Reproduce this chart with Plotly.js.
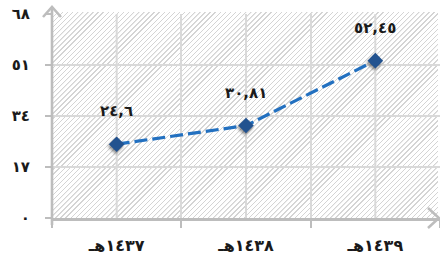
<!DOCTYPE html>
<html>
<head>
<meta charset="utf-8">
<script src="https://cdn.plot.ly/plotly-3.0.1.min.js"></script>
<style>
  html, body { margin: 0; padding: 0; background: #ffffff; }
  #wrap { position: relative; width: 440px; height: 256px; overflow: hidden; }
  #hatch {
    position: absolute; left: 52px; top: 12px; width: 386px; height: 206px;
    background: repeating-linear-gradient(135deg, #d4d4d4 0px, #d4d4d4 0.85px, #ffffff 1.15px, #ffffff 3.6px);
  }
  #chart { position: absolute; left: 0; top: 0; width: 440px; height: 256px; }
  #chart .scatterlayer .points path.point { filter: drop-shadow(-1px 2px 1.5px rgba(0,0,0,0.45)); }
</style>
</head>
<body>
<div id="wrap">
  <div id="hatch"></div>
  <div id="chart"></div>
</div>
<script>
// ---- data ----
const categories = ['١٤٣٧هـ', '١٤٣٨هـ', '١٤٣٩هـ'];
const values = [24.6, 30.81, 52.45];
const valueLabels = ['٢٤,٦', '٣٠,٨١', '٥٢,٤٥'];
const yTickVals = [0, 17, 34, 51, 68];
const yTickText = ['٠', '١٧', '٣٤', '٥١', '٦٨'];

const FONT = 'DejaVu Sans, Noto Sans, sans-serif';
const AXIS_COL = '#bdbdbd';
const GRID_COL = '#d9d9d9';

const M = { l: 52, r: 0, t: 14, b: 38 };
const W = 440, H = 256;
const PW = W - M.l - M.r, PH = H - M.t - M.b;
const px = v => v / PW;   // pixels -> paper fraction (x)
const py = v => v / PH;   // pixels -> paper fraction (y)

const trace = {
  type: 'scatter',
  mode: 'lines+markers',
  x: categories,
  y: values,
  line: { color: '#2270c0', width: 3.2, dash: '13px,5px' },
  marker: { symbol: 'diamond', size: 12, color: '#22528f' },
  hoverinfo: 'none',
  cliponaxis: false
};

const annotations = categories.map((c, i) => ({
  x: c, y: values[i], xref: 'x', yref: 'y',
  text: valueLabels[i], showarrow: false,
  yanchor: 'middle', yshift: 33,
  font: { family: FONT, size: 15, color: '#1a1a1a', weight: 'bold' }
}));

const shapes = [];
// vertical gridlines at category centres
categories.forEach(c => {
  shapes.push({ type: 'line', xref: 'x', yref: 'paper', x0: c, x1: c, y0: 0, y1: 1,
    line: { color: GRID_COL, width: 2 }, layer: 'below' });
});
// y-axis line (extends past plot area) and arrow heads
shapes.push({ type: 'line', xref: 'paper', yref: 'paper',
  x0: 0, x1: 0, y0: -py(7), y1: 1 + py(7), line: { color: AXIS_COL, width: 2.6 } });
shapes.push({ type: 'path', xref: 'paper', yref: 'paper',
  path: `M${-px(9)},${1 - py(3)} L0,${1 + py(7)} L${px(9)},${1 - py(3)}`,
  line: { color: AXIS_COL, width: 2.6 } });
shapes.push({ type: 'path', xref: 'paper', yref: 'paper',
  path: `M${1 - px(12)},${py(10)} L${1 - px(1)},0 L${1 - px(12)},${-py(10)}`,
  line: { color: AXIS_COL, width: 2.6 } });

const layout = {
  width: W, height: H,
  margin: M,
  paper_bgcolor: 'rgba(0,0,0,0)',
  plot_bgcolor: 'rgba(0,0,0,0)',
  showlegend: false,
  xaxis: {
    type: 'category',
    categoryarray: categories,
    range: [-0.5, 2.5],
    tickson: 'boundaries',
    ticks: 'outside', ticklen: 7, tickwidth: 2, tickcolor: AXIS_COL,
    showgrid: true, gridcolor: GRID_COL, gridwidth: 2,
    showline: true, linecolor: AXIS_COL, linewidth: 2.6,
    zeroline: false,
    ticklabelstandoff: 11,
    tickfont: { family: FONT, size: 16, color: '#1a1a1a', weight: 'bold' },
    fixedrange: true
  },
  yaxis: {
    range: [0, 68],
    tickvals: yTickVals,
    ticktext: yTickText,
    ticks: 'outside', ticklen: 6, tickwidth: 2, tickcolor: AXIS_COL,
    showgrid: true, gridcolor: GRID_COL, gridwidth: 2,
    showline: false, zeroline: false,
    ticklabelstandoff: 12,
    tickfont: { family: FONT, size: 15, color: '#1a1a1a', weight: 'bold' },
    fixedrange: true
  },
  annotations: annotations,
  shapes: shapes
};

Plotly.newPlot('chart', [trace], layout, { staticPlot: true, displayModeBar: false });
</script>
</body>
</html>
